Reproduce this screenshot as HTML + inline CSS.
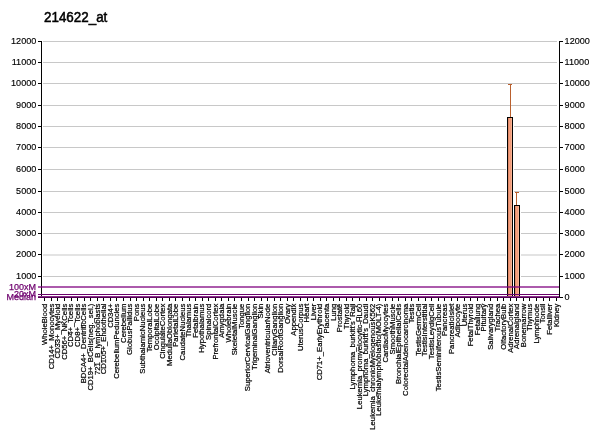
<!DOCTYPE html><html><head><meta charset="utf-8"><style>html,body{margin:0;padding:0;background:#fff;width:600px;height:434px;overflow:hidden}svg{display:block}text{font-family:"Liberation Sans",sans-serif}</style></head><body>
<svg width="600" height="434" viewBox="0 0 600 434"><g opacity="0.999">
<text transform="translate(44,22.2) scale(1,1.08)" font-size="13.4" fill="#000" stroke="#000" stroke-width="0.5">214622_at</text>
<rect x="38" y="297" width="3" height="1" fill="#000"/>
<rect x="560" y="297" width="3" height="1" fill="#000"/>
<text transform="translate(564.6,300.45) scale(1,1.06)" font-size="9.1" fill="#000" stroke="#000" stroke-width="0.15">0</text>
<rect x="43" y="276" width="514" height="1" fill="#c8c8c8"/>
<rect x="38" y="276" width="3" height="1" fill="#000"/>
<rect x="560" y="276" width="3" height="1" fill="#000"/>
<text transform="translate(36.3,279.45) scale(1,1.06)" font-size="9.1" text-anchor="end" fill="#000" stroke="#000" stroke-width="0.15">1000</text>
<text transform="translate(564.6,279.45) scale(1,1.06)" font-size="9.1" fill="#000" stroke="#000" stroke-width="0.15">1000</text>
<rect x="43" y="254" width="514" height="2" fill="#c8c8c8" fill-opacity="0.5"/>
<rect x="38" y="254" width="3" height="1" fill="#000"/>
<rect x="560" y="254" width="3" height="1" fill="#000"/>
<text transform="translate(36.3,257.45) scale(1,1.06)" font-size="9.1" text-anchor="end" fill="#000" stroke="#000" stroke-width="0.15">2000</text>
<text transform="translate(564.6,257.45) scale(1,1.06)" font-size="9.1" fill="#000" stroke="#000" stroke-width="0.15">2000</text>
<rect x="43" y="233" width="514" height="1" fill="#c8c8c8"/>
<rect x="38" y="233" width="3" height="1" fill="#000"/>
<rect x="560" y="233" width="3" height="1" fill="#000"/>
<text transform="translate(36.3,236.45) scale(1,1.06)" font-size="9.1" text-anchor="end" fill="#000" stroke="#000" stroke-width="0.15">3000</text>
<text transform="translate(564.6,236.45) scale(1,1.06)" font-size="9.1" fill="#000" stroke="#000" stroke-width="0.15">3000</text>
<rect x="43" y="212" width="514" height="1" fill="#c8c8c8"/>
<rect x="38" y="212" width="3" height="1" fill="#000"/>
<rect x="560" y="212" width="3" height="1" fill="#000"/>
<text transform="translate(36.3,215.45) scale(1,1.06)" font-size="9.1" text-anchor="end" fill="#000" stroke="#000" stroke-width="0.15">4000</text>
<text transform="translate(564.6,215.45) scale(1,1.06)" font-size="9.1" fill="#000" stroke="#000" stroke-width="0.15">4000</text>
<rect x="43" y="191" width="514" height="1" fill="#c8c8c8"/>
<rect x="38" y="191" width="3" height="1" fill="#000"/>
<rect x="560" y="191" width="3" height="1" fill="#000"/>
<text transform="translate(36.3,194.45) scale(1,1.06)" font-size="9.1" text-anchor="end" fill="#000" stroke="#000" stroke-width="0.15">5000</text>
<text transform="translate(564.6,194.45) scale(1,1.06)" font-size="9.1" fill="#000" stroke="#000" stroke-width="0.15">5000</text>
<rect x="43" y="169" width="514" height="1" fill="#c8c8c8"/>
<rect x="38" y="169" width="3" height="1" fill="#000"/>
<rect x="560" y="169" width="3" height="1" fill="#000"/>
<text transform="translate(36.3,172.45) scale(1,1.06)" font-size="9.1" text-anchor="end" fill="#000" stroke="#000" stroke-width="0.15">6000</text>
<text transform="translate(564.6,172.45) scale(1,1.06)" font-size="9.1" fill="#000" stroke="#000" stroke-width="0.15">6000</text>
<rect x="43" y="147" width="514" height="1" fill="#c8c8c8"/>
<rect x="38" y="147" width="3" height="1" fill="#000"/>
<rect x="560" y="147" width="3" height="1" fill="#000"/>
<text transform="translate(36.3,150.45) scale(1,1.06)" font-size="9.1" text-anchor="end" fill="#000" stroke="#000" stroke-width="0.15">7000</text>
<text transform="translate(564.6,150.45) scale(1,1.06)" font-size="9.1" fill="#000" stroke="#000" stroke-width="0.15">7000</text>
<rect x="43" y="126" width="514" height="1" fill="#c8c8c8"/>
<rect x="38" y="126" width="3" height="1" fill="#000"/>
<rect x="560" y="126" width="3" height="1" fill="#000"/>
<text transform="translate(36.3,129.45) scale(1,1.06)" font-size="9.1" text-anchor="end" fill="#000" stroke="#000" stroke-width="0.15">8000</text>
<text transform="translate(564.6,129.45) scale(1,1.06)" font-size="9.1" fill="#000" stroke="#000" stroke-width="0.15">8000</text>
<rect x="43" y="105" width="514" height="1" fill="#c8c8c8"/>
<rect x="38" y="105" width="3" height="1" fill="#000"/>
<rect x="560" y="105" width="3" height="1" fill="#000"/>
<text transform="translate(36.3,108.45) scale(1,1.06)" font-size="9.1" text-anchor="end" fill="#000" stroke="#000" stroke-width="0.15">9000</text>
<text transform="translate(564.6,108.45) scale(1,1.06)" font-size="9.1" fill="#000" stroke="#000" stroke-width="0.15">9000</text>
<rect x="43" y="83" width="514" height="1" fill="#c8c8c8"/>
<rect x="38" y="83" width="3" height="1" fill="#000"/>
<rect x="560" y="83" width="3" height="1" fill="#000"/>
<text transform="translate(36.3,86.45) scale(1,1.06)" font-size="9.1" text-anchor="end" fill="#000" stroke="#000" stroke-width="0.15">10000</text>
<text transform="translate(564.6,86.45) scale(1,1.06)" font-size="9.1" fill="#000" stroke="#000" stroke-width="0.15">10000</text>
<rect x="43" y="62" width="514" height="1" fill="#c8c8c8"/>
<rect x="38" y="62" width="3" height="1" fill="#000"/>
<rect x="560" y="62" width="3" height="1" fill="#000"/>
<text transform="translate(36.3,65.45) scale(1,1.06)" font-size="9.1" text-anchor="end" fill="#000" stroke="#000" stroke-width="0.15">11000</text>
<text transform="translate(564.6,65.45) scale(1,1.06)" font-size="9.1" fill="#000" stroke="#000" stroke-width="0.15">11000</text>
<rect x="43" y="41" width="514" height="1" fill="#c8c8c8"/>
<rect x="38" y="41" width="3" height="1" fill="#000"/>
<rect x="560" y="41" width="3" height="1" fill="#000"/>
<text transform="translate(36.3,44.45) scale(1,1.06)" font-size="9.1" text-anchor="end" fill="#000" stroke="#000" stroke-width="0.15">12000</text>
<text transform="translate(564.6,44.45) scale(1,1.06)" font-size="9.1" fill="#000" stroke="#000" stroke-width="0.15">12000</text>
<rect x="41" y="41" width="1" height="257" fill="#000"/>
<rect x="559" y="41" width="1" height="257" fill="#000"/>
<rect x="506" y="117" width="1" height="168" fill="#fff"/>
<rect x="513" y="117" width="1" height="168" fill="#fff"/>
<rect x="520" y="205" width="1" height="80" fill="#fff"/>
<rect x="507.5" y="117.5" width="5" height="179" fill="#f09a7c" stroke="#000" stroke-width="1"/>
<rect x="508" y="118" width="1" height="178" fill="#e08a68"/>
<rect x="509" y="118" width="1" height="178" fill="#f5a080"/>
<rect x="510" y="118" width="1" height="178" fill="#f09a7a"/>
<rect x="511" y="118" width="1" height="178" fill="#f8b494"/>
<rect x="510" y="84" width="1" height="33" fill="#b9602e"/>
<rect x="508" y="84" width="4" height="1" fill="#b9602e"/>
<rect x="514.5" y="205.5" width="5" height="91" fill="#f09a7c" stroke="#000" stroke-width="1"/>
<rect x="515" y="206" width="1" height="90" fill="#e08a68"/>
<rect x="516" y="206" width="1" height="90" fill="#f5a080"/>
<rect x="517" y="206" width="1" height="90" fill="#f09a7a"/>
<rect x="518" y="206" width="1" height="90" fill="#f8b494"/>
<rect x="516" y="192" width="1" height="13" fill="#b9602e"/>
<rect x="515" y="192" width="4" height="1" fill="#b9602e"/>
<rect x="38" y="286" width="521" height="2" fill="#800080" fill-opacity="0.65"/>
<rect x="38" y="294" width="521" height="1" fill="#6a006a"/>
<rect x="38" y="296" width="521" height="1" fill="#8a2a8a"/>
<rect x="38" y="297" width="522" height="1" fill="#500050"/>
<text x="36" y="289.6" font-size="9" text-anchor="end" fill="#700070" stroke="#700070" stroke-width="0.25">100xM</text>
<text x="36" y="297" font-size="9" text-anchor="end" fill="#700070" stroke="#700070" stroke-width="0.25">20xM</text>
<text x="36" y="300" font-size="9" text-anchor="end" fill="#700070" stroke="#700070" stroke-width="0.25">Median</text>
<rect x="44" y="298" width="1" height="3" fill="#000"/>
<rect x="51" y="298" width="1" height="3" fill="#000"/>
<rect x="57" y="298" width="1" height="3" fill="#000"/>
<rect x="64" y="298" width="1" height="3" fill="#000"/>
<rect x="71" y="298" width="1" height="3" fill="#000"/>
<rect x="77" y="298" width="1" height="3" fill="#000"/>
<rect x="84" y="298" width="1" height="3" fill="#000"/>
<rect x="90" y="298" width="1" height="3" fill="#000"/>
<rect x="97" y="298" width="1" height="3" fill="#000"/>
<rect x="103" y="298" width="1" height="3" fill="#000"/>
<rect x="110" y="298" width="1" height="3" fill="#000"/>
<rect x="116" y="298" width="1" height="3" fill="#000"/>
<rect x="123" y="298" width="1" height="3" fill="#000"/>
<rect x="130" y="298" width="1" height="3" fill="#000"/>
<rect x="136" y="298" width="1" height="3" fill="#000"/>
<rect x="143" y="298" width="1" height="3" fill="#000"/>
<rect x="149" y="298" width="1" height="3" fill="#000"/>
<rect x="156" y="298" width="1" height="3" fill="#000"/>
<rect x="162" y="298" width="1" height="3" fill="#000"/>
<rect x="169" y="298" width="1" height="3" fill="#000"/>
<rect x="175" y="298" width="1" height="3" fill="#000"/>
<rect x="182" y="298" width="1" height="3" fill="#000"/>
<rect x="189" y="298" width="1" height="3" fill="#000"/>
<rect x="195" y="298" width="1" height="3" fill="#000"/>
<rect x="202" y="298" width="1" height="3" fill="#000"/>
<rect x="208" y="298" width="1" height="3" fill="#000"/>
<rect x="215" y="298" width="1" height="3" fill="#000"/>
<rect x="221" y="298" width="1" height="3" fill="#000"/>
<rect x="228" y="298" width="1" height="3" fill="#000"/>
<rect x="234" y="298" width="1" height="3" fill="#000"/>
<rect x="241" y="298" width="1" height="3" fill="#000"/>
<rect x="248" y="298" width="1" height="3" fill="#000"/>
<rect x="254" y="298" width="1" height="3" fill="#000"/>
<rect x="261" y="298" width="1" height="3" fill="#000"/>
<rect x="267" y="298" width="1" height="3" fill="#000"/>
<rect x="274" y="298" width="1" height="3" fill="#000"/>
<rect x="280" y="298" width="1" height="3" fill="#000"/>
<rect x="287" y="298" width="1" height="3" fill="#000"/>
<rect x="293" y="298" width="1" height="3" fill="#000"/>
<rect x="300" y="298" width="1" height="3" fill="#000"/>
<rect x="307" y="298" width="1" height="3" fill="#000"/>
<rect x="313" y="298" width="1" height="3" fill="#000"/>
<rect x="320" y="298" width="1" height="3" fill="#000"/>
<rect x="326" y="298" width="1" height="3" fill="#000"/>
<rect x="333" y="298" width="1" height="3" fill="#000"/>
<rect x="339" y="298" width="1" height="3" fill="#000"/>
<rect x="346" y="298" width="1" height="3" fill="#000"/>
<rect x="352" y="298" width="1" height="3" fill="#000"/>
<rect x="359" y="298" width="1" height="3" fill="#000"/>
<rect x="366" y="298" width="1" height="3" fill="#000"/>
<rect x="372" y="298" width="1" height="3" fill="#000"/>
<rect x="379" y="298" width="1" height="3" fill="#000"/>
<rect x="385" y="298" width="1" height="3" fill="#000"/>
<rect x="392" y="298" width="1" height="3" fill="#000"/>
<rect x="398" y="298" width="1" height="3" fill="#000"/>
<rect x="405" y="298" width="1" height="3" fill="#000"/>
<rect x="411" y="298" width="1" height="3" fill="#000"/>
<rect x="418" y="298" width="1" height="3" fill="#000"/>
<rect x="425" y="298" width="1" height="3" fill="#000"/>
<rect x="431" y="298" width="1" height="3" fill="#000"/>
<rect x="438" y="298" width="1" height="3" fill="#000"/>
<rect x="444" y="298" width="1" height="3" fill="#000"/>
<rect x="451" y="298" width="1" height="3" fill="#000"/>
<rect x="457" y="298" width="1" height="3" fill="#000"/>
<rect x="464" y="298" width="1" height="3" fill="#000"/>
<rect x="470" y="298" width="1" height="3" fill="#000"/>
<rect x="477" y="298" width="1" height="3" fill="#000"/>
<rect x="484" y="298" width="1" height="3" fill="#000"/>
<rect x="490" y="298" width="1" height="3" fill="#000"/>
<rect x="497" y="298" width="1" height="3" fill="#000"/>
<rect x="503" y="298" width="1" height="3" fill="#000"/>
<rect x="510" y="298" width="1" height="3" fill="#000"/>
<rect x="516" y="298" width="1" height="3" fill="#000"/>
<rect x="523" y="298" width="1" height="3" fill="#000"/>
<rect x="529" y="298" width="1" height="3" fill="#000"/>
<rect x="536" y="298" width="1" height="3" fill="#000"/>
<rect x="543" y="298" width="1" height="3" fill="#000"/>
<rect x="549" y="298" width="1" height="3" fill="#000"/>
<rect x="556" y="298" width="1" height="3" fill="#000"/>
<text transform="translate(47.08,303.6) rotate(-90)" font-size="7.7" text-anchor="end" fill="#000" stroke="#000" stroke-width="0.22">WholeBlood</text>
<text transform="translate(53.64,303.6) rotate(-90)" font-size="7.7" text-anchor="end" fill="#000" stroke="#000" stroke-width="0.22">CD14+_Monocytes</text>
<text transform="translate(60.19,303.6) rotate(-90)" font-size="7.7" text-anchor="end" fill="#000" stroke="#000" stroke-width="0.22">CD33+_Myeloid</text>
<text transform="translate(66.75,303.6) rotate(-90)" font-size="7.7" text-anchor="end" fill="#000" stroke="#000" stroke-width="0.22">CD56+_NKCells</text>
<text transform="translate(73.31,303.6) rotate(-90)" font-size="7.7" text-anchor="end" fill="#000" stroke="#000" stroke-width="0.22">CD4+_Tcells</text>
<text transform="translate(79.86,303.6) rotate(-90)" font-size="7.7" text-anchor="end" fill="#000" stroke="#000" stroke-width="0.22">CD8+_Tcells</text>
<text transform="translate(86.42,303.6) rotate(-90)" font-size="7.7" text-anchor="end" fill="#000" stroke="#000" stroke-width="0.22">BDCA4+_DentriticCells</text>
<text transform="translate(92.98,303.6) rotate(-90)" font-size="7.7" text-anchor="end" fill="#000" stroke="#000" stroke-width="0.22">CD19+_BCells(neg._sel.)</text>
<text transform="translate(99.53,303.6) rotate(-90)" font-size="7.7" text-anchor="end" fill="#000" stroke="#000" stroke-width="0.22">721_B_lymphoblasts</text>
<text transform="translate(106.09,303.6) rotate(-90)" font-size="7.7" text-anchor="end" fill="#000" stroke="#000" stroke-width="0.22">CD105+_Endothelial</text>
<text transform="translate(112.65,303.6) rotate(-90)" font-size="7.7" text-anchor="end" fill="#000" stroke="#000" stroke-width="0.22">CD34+</text>
<text transform="translate(119.21,303.6) rotate(-90)" font-size="7.7" text-anchor="end" fill="#000" stroke="#000" stroke-width="0.22">CerebellumPeduncles</text>
<text transform="translate(125.76,303.6) rotate(-90)" font-size="7.7" text-anchor="end" fill="#000" stroke="#000" stroke-width="0.22">Cerebellum</text>
<text transform="translate(132.32,303.6) rotate(-90)" font-size="7.7" text-anchor="end" fill="#000" stroke="#000" stroke-width="0.22">GlobusPallidus</text>
<text transform="translate(138.88,303.6) rotate(-90)" font-size="7.7" text-anchor="end" fill="#000" stroke="#000" stroke-width="0.22">Pons</text>
<text transform="translate(145.43,303.6) rotate(-90)" font-size="7.7" text-anchor="end" fill="#000" stroke="#000" stroke-width="0.22">SubthalamicNucleus</text>
<text transform="translate(151.99,303.6) rotate(-90)" font-size="7.7" text-anchor="end" fill="#000" stroke="#000" stroke-width="0.22">TemporalLobe</text>
<text transform="translate(158.55,303.6) rotate(-90)" font-size="7.7" text-anchor="end" fill="#000" stroke="#000" stroke-width="0.22">OccipitalLobe</text>
<text transform="translate(165.10,303.6) rotate(-90)" font-size="7.7" text-anchor="end" fill="#000" stroke="#000" stroke-width="0.22">CingulateCortex</text>
<text transform="translate(171.66,303.6) rotate(-90)" font-size="7.7" text-anchor="end" fill="#000" stroke="#000" stroke-width="0.22">MedullaOblongata</text>
<text transform="translate(178.22,303.6) rotate(-90)" font-size="7.7" text-anchor="end" fill="#000" stroke="#000" stroke-width="0.22">ParietalLobe</text>
<text transform="translate(184.77,303.6) rotate(-90)" font-size="7.7" text-anchor="end" fill="#000" stroke="#000" stroke-width="0.22">CaudateNucleus</text>
<text transform="translate(191.33,303.6) rotate(-90)" font-size="7.7" text-anchor="end" fill="#000" stroke="#000" stroke-width="0.22">Thalamus</text>
<text transform="translate(197.89,303.6) rotate(-90)" font-size="7.7" text-anchor="end" fill="#000" stroke="#000" stroke-width="0.22">Fetalbrain</text>
<text transform="translate(204.45,303.6) rotate(-90)" font-size="7.7" text-anchor="end" fill="#000" stroke="#000" stroke-width="0.22">Hypothalamus</text>
<text transform="translate(211.00,303.6) rotate(-90)" font-size="7.7" text-anchor="end" fill="#000" stroke="#000" stroke-width="0.22">Spinalcord</text>
<text transform="translate(217.56,303.6) rotate(-90)" font-size="7.7" text-anchor="end" fill="#000" stroke="#000" stroke-width="0.22">PrefrontalCortex</text>
<text transform="translate(224.12,303.6) rotate(-90)" font-size="7.7" text-anchor="end" fill="#000" stroke="#000" stroke-width="0.22">Amygdala</text>
<text transform="translate(230.67,303.6) rotate(-90)" font-size="7.7" text-anchor="end" fill="#000" stroke="#000" stroke-width="0.22">Wholebrain</text>
<text transform="translate(237.23,303.6) rotate(-90)" font-size="7.7" text-anchor="end" fill="#000" stroke="#000" stroke-width="0.22">SkeletalMuscle</text>
<text transform="translate(243.79,303.6) rotate(-90)" font-size="7.7" text-anchor="end" fill="#000" stroke="#000" stroke-width="0.22">Tongue</text>
<text transform="translate(250.34,303.6) rotate(-90)" font-size="7.7" text-anchor="end" fill="#000" stroke="#000" stroke-width="0.22">SuperiorCervicalGanglion</text>
<text transform="translate(256.90,303.6) rotate(-90)" font-size="7.7" text-anchor="end" fill="#000" stroke="#000" stroke-width="0.22">TrigeminalGanglion</text>
<text transform="translate(263.46,303.6) rotate(-90)" font-size="7.7" text-anchor="end" fill="#000" stroke="#000" stroke-width="0.22">Skin</text>
<text transform="translate(270.02,303.6) rotate(-90)" font-size="7.7" text-anchor="end" fill="#000" stroke="#000" stroke-width="0.22">AtrioventricularNode</text>
<text transform="translate(276.57,303.6) rotate(-90)" font-size="7.7" text-anchor="end" fill="#000" stroke="#000" stroke-width="0.22">CiliaryGanglion</text>
<text transform="translate(283.13,303.6) rotate(-90)" font-size="7.7" text-anchor="end" fill="#000" stroke="#000" stroke-width="0.22">DorsalRootGanglion</text>
<text transform="translate(289.69,303.6) rotate(-90)" font-size="7.7" text-anchor="end" fill="#000" stroke="#000" stroke-width="0.22">Ovary</text>
<text transform="translate(296.24,303.6) rotate(-90)" font-size="7.7" text-anchor="end" fill="#000" stroke="#000" stroke-width="0.22">Appendix</text>
<text transform="translate(302.80,303.6) rotate(-90)" font-size="7.7" text-anchor="end" fill="#000" stroke="#000" stroke-width="0.22">UterusCorpus</text>
<text transform="translate(309.36,303.6) rotate(-90)" font-size="7.7" text-anchor="end" fill="#000" stroke="#000" stroke-width="0.22">Heart</text>
<text transform="translate(315.91,303.6) rotate(-90)" font-size="7.7" text-anchor="end" fill="#000" stroke="#000" stroke-width="0.22">Liver</text>
<text transform="translate(322.47,303.6) rotate(-90)" font-size="7.7" text-anchor="end" fill="#000" stroke="#000" stroke-width="0.22">CD71+_EarlyErythroid</text>
<text transform="translate(329.03,303.6) rotate(-90)" font-size="7.7" text-anchor="end" fill="#000" stroke="#000" stroke-width="0.22">Placenta</text>
<text transform="translate(335.58,303.6) rotate(-90)" font-size="7.7" text-anchor="end" fill="#000" stroke="#000" stroke-width="0.22">Lung</text>
<text transform="translate(342.14,303.6) rotate(-90)" font-size="7.7" text-anchor="end" fill="#000" stroke="#000" stroke-width="0.22">Prostate</text>
<text transform="translate(348.70,303.6) rotate(-90)" font-size="7.7" text-anchor="end" fill="#000" stroke="#000" stroke-width="0.22">Thyroid</text>
<text transform="translate(355.26,303.6) rotate(-90)" font-size="7.7" text-anchor="end" fill="#000" stroke="#000" stroke-width="0.22">Lymphoma_burkitt's_Raji</text>
<text transform="translate(361.81,303.6) rotate(-90)" font-size="7.7" text-anchor="end" fill="#000" stroke="#000" stroke-width="0.22">Leukemia_promyelocytic-HL60</text>
<text transform="translate(368.37,303.6) rotate(-90)" font-size="7.7" text-anchor="end" fill="#000" stroke="#000" stroke-width="0.22">Lymphoma_burkitt's_Daudi</text>
<text transform="translate(374.93,303.6) rotate(-90)" font-size="7.7" text-anchor="end" fill="#000" stroke="#000" stroke-width="0.22">Leukemia_chronicMyelogenousK562</text>
<text transform="translate(381.48,303.6) rotate(-90)" font-size="7.7" text-anchor="end" fill="#000" stroke="#000" stroke-width="0.22">Leukemialymphoblastic(MOLT-4)</text>
<text transform="translate(388.04,303.6) rotate(-90)" font-size="7.7" text-anchor="end" fill="#000" stroke="#000" stroke-width="0.22">CardiacMyocytes</text>
<text transform="translate(394.60,303.6) rotate(-90)" font-size="7.7" text-anchor="end" fill="#000" stroke="#000" stroke-width="0.22">SmoothMuscle</text>
<text transform="translate(401.15,303.6) rotate(-90)" font-size="7.7" text-anchor="end" fill="#000" stroke="#000" stroke-width="0.22">BronchialEpithelialCells</text>
<text transform="translate(407.71,303.6) rotate(-90)" font-size="7.7" text-anchor="end" fill="#000" stroke="#000" stroke-width="0.22">ColorectalAdenocarcinoma</text>
<text transform="translate(414.27,303.6) rotate(-90)" font-size="7.7" text-anchor="end" fill="#000" stroke="#000" stroke-width="0.22">Testis</text>
<text transform="translate(420.83,303.6) rotate(-90)" font-size="7.7" text-anchor="end" fill="#000" stroke="#000" stroke-width="0.22">TestisGermCell</text>
<text transform="translate(427.38,303.6) rotate(-90)" font-size="7.7" text-anchor="end" fill="#000" stroke="#000" stroke-width="0.22">TestisInterstitial</text>
<text transform="translate(433.94,303.6) rotate(-90)" font-size="7.7" text-anchor="end" fill="#000" stroke="#000" stroke-width="0.22">TestisLeydigCell</text>
<text transform="translate(440.50,303.6) rotate(-90)" font-size="7.7" text-anchor="end" fill="#000" stroke="#000" stroke-width="0.22">TestisSeminiferousTubule</text>
<text transform="translate(447.05,303.6) rotate(-90)" font-size="7.7" text-anchor="end" fill="#000" stroke="#000" stroke-width="0.22">Pancreas</text>
<text transform="translate(453.61,303.6) rotate(-90)" font-size="7.7" text-anchor="end" fill="#000" stroke="#000" stroke-width="0.22">PancreaticIslet</text>
<text transform="translate(460.17,303.6) rotate(-90)" font-size="7.7" text-anchor="end" fill="#000" stroke="#000" stroke-width="0.22">Adipocyte</text>
<text transform="translate(466.72,303.6) rotate(-90)" font-size="7.7" text-anchor="end" fill="#000" stroke="#000" stroke-width="0.22">Uterus</text>
<text transform="translate(473.28,303.6) rotate(-90)" font-size="7.7" text-anchor="end" fill="#000" stroke="#000" stroke-width="0.22">FetalThyroid</text>
<text transform="translate(479.84,303.6) rotate(-90)" font-size="7.7" text-anchor="end" fill="#000" stroke="#000" stroke-width="0.22">Fetallung</text>
<text transform="translate(486.39,303.6) rotate(-90)" font-size="7.7" text-anchor="end" fill="#000" stroke="#000" stroke-width="0.22">Pituitary</text>
<text transform="translate(492.95,303.6) rotate(-90)" font-size="7.7" text-anchor="end" fill="#000" stroke="#000" stroke-width="0.22">Salivarygland</text>
<text transform="translate(499.51,303.6) rotate(-90)" font-size="7.7" text-anchor="end" fill="#000" stroke="#000" stroke-width="0.22">Trachea</text>
<text transform="translate(506.07,303.6) rotate(-90)" font-size="7.7" text-anchor="end" fill="#000" stroke="#000" stroke-width="0.22">OlfactoryBulb</text>
<text transform="translate(512.62,303.6) rotate(-90)" font-size="7.7" text-anchor="end" fill="#000" stroke="#000" stroke-width="0.22">AdrenalCortex</text>
<text transform="translate(519.18,303.6) rotate(-90)" font-size="7.7" text-anchor="end" fill="#000" stroke="#000" stroke-width="0.22">Adrenalgland</text>
<text transform="translate(525.74,303.6) rotate(-90)" font-size="7.7" text-anchor="end" fill="#000" stroke="#000" stroke-width="0.22">Bonemarrow</text>
<text transform="translate(532.29,303.6) rotate(-90)" font-size="7.7" text-anchor="end" fill="#000" stroke="#000" stroke-width="0.22">Thymus</text>
<text transform="translate(538.85,303.6) rotate(-90)" font-size="7.7" text-anchor="end" fill="#000" stroke="#000" stroke-width="0.22">Lymphnode</text>
<text transform="translate(545.41,303.6) rotate(-90)" font-size="7.7" text-anchor="end" fill="#000" stroke="#000" stroke-width="0.22">Tonsil</text>
<text transform="translate(551.96,303.6) rotate(-90)" font-size="7.7" text-anchor="end" fill="#000" stroke="#000" stroke-width="0.22">Fetalliver</text>
<text transform="translate(558.52,303.6) rotate(-90)" font-size="7.7" text-anchor="end" fill="#000" stroke="#000" stroke-width="0.22">Kidney</text>
</g></svg></body></html>
